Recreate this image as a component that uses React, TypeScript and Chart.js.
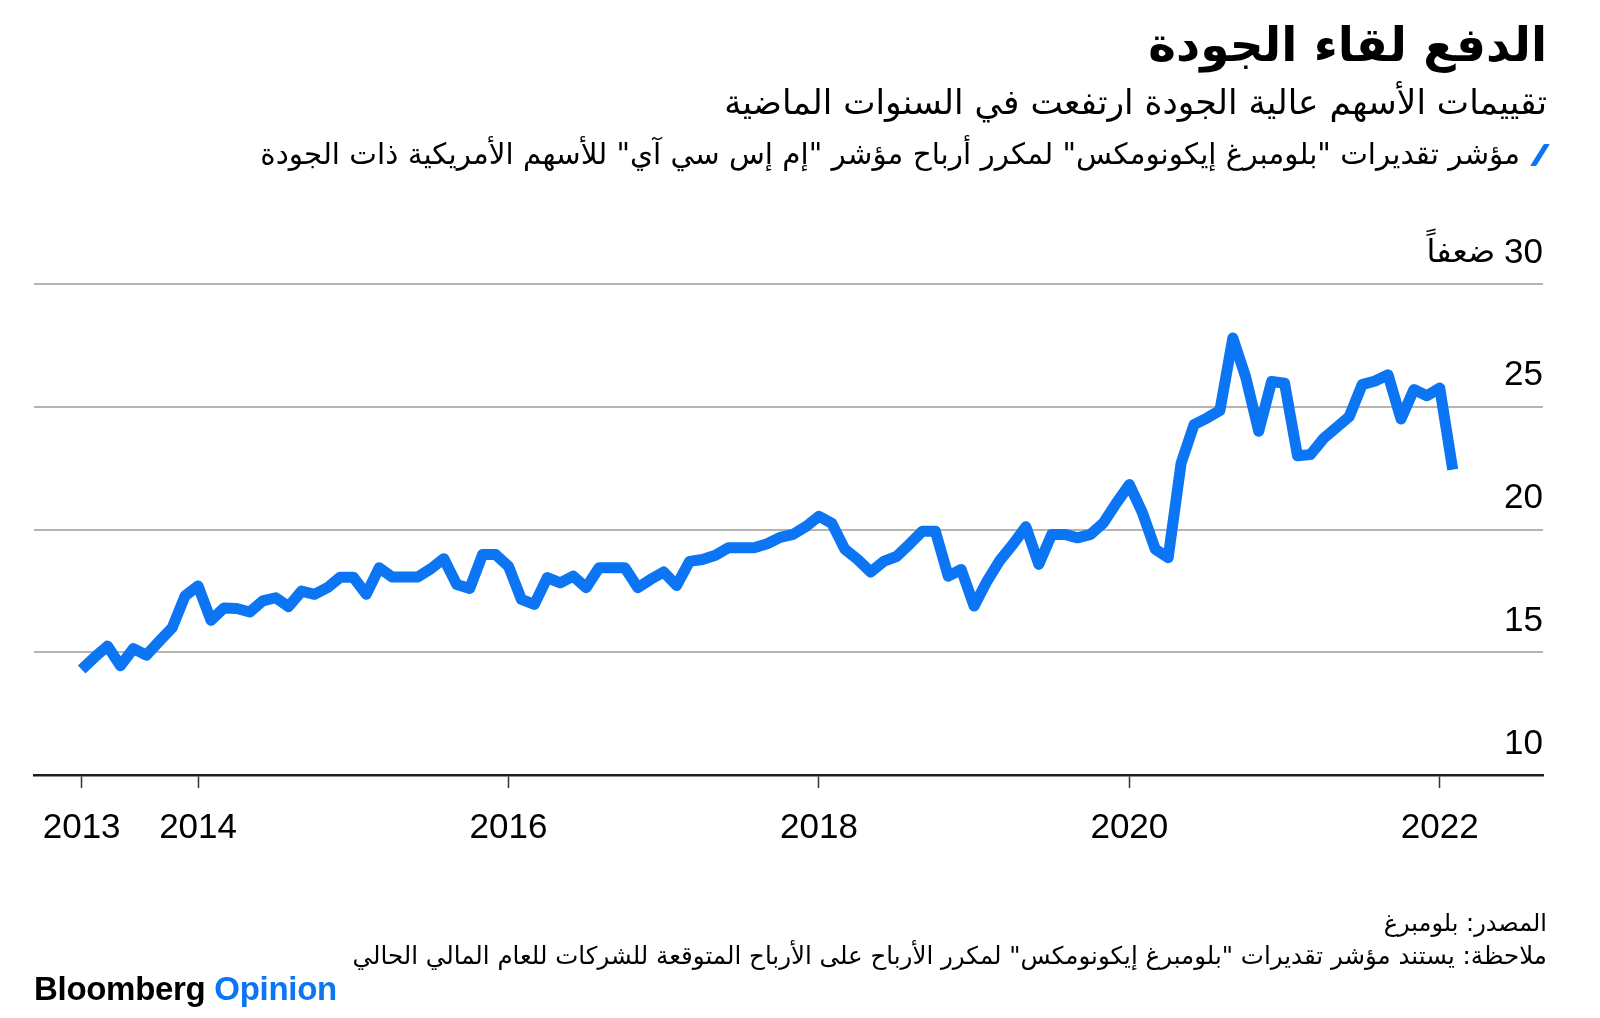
import React, { useEffect, useRef } from "react";
import { Chart, registerables } from "chart.js";

Chart.register(...registerables);

// ---- Data (month-end values, starting March 2013) ----
const startYear = 2013;
const startMonth = 3; // March
const peValues = [
  14.3, 14.8, 15.25, 14.45, 15.15, 14.88, 15.45, 16.0, 17.3, 17.7,
  16.3, 16.8, 16.78, 16.64, 17.09, 17.22, 16.86, 17.49, 17.36, 17.63,
  18.06, 18.06, 17.36, 18.44, 18.07, 18.07, 18.07, 18.4, 18.81, 17.76,
  17.6, 18.98, 18.98, 18.5, 17.15, 16.95, 18.04, 17.83, 18.1, 17.63,
  18.44, 18.44, 18.44, 17.63, 17.97, 18.27, 17.72, 18.7, 18.78, 18.95,
  19.26, 19.26, 19.26, 19.42, 19.68, 19.8, 20.12, 20.54, 20.25, 19.2,
  18.78, 18.27, 18.7, 18.9, 19.4, 19.93, 19.93, 18.1, 18.37, 16.88,
  17.9, 18.75, 19.4, 20.11, 18.58, 19.8, 19.8, 19.66, 19.8, 20.27,
  21.08, 21.83, 20.7, 19.2, 18.85, 22.7, 24.27, 24.54, 24.85, 27.8,
  26.2, 24.0, 26.03, 25.96, 23.0, 23.05, 23.7, 24.15, 24.6, 25.9,
  26.05, 26.3, 24.5, 25.7, 25.45, 25.76, 22.44,
];
const xTickValues = [2013.25, 2014, 2016, 2018, 2020, 2022];
const yTickValues = [10, 15, 20, 25, 30];
const yUnit = "ضعفاً";

// ---- Text ----
const titleText = "الدفع لقاء الجودة";
const subtitleText = "تقييمات الأسهم عالية الجودة ارتفعت في السنوات الماضية";
const legendText = 'مؤشر تقديرات "بلومبرغ إيكونومكس" لمكرر أرباح مؤشر "إم إس سي آي" للأسهم الأمريكية ذات الجودة';
const sourceText = "المصدر: بلومبرغ";
const noteText = 'ملاحظة: يستند مؤشر تقديرات "بلومبرغ إيكونومكس" لمكرر الأرباح على الأرباح المتوقعة للشركات للعام المالي الحالي';

const BLUE = "#0b75f4";
const AR_FONT = '"DejaVu Sans", "Noto Sans", sans-serif';
const NUM_FONT = '"Liberation Sans", Arial, Helvetica, sans-serif';

const yLabelPlugin = {
  id: "yLabels",
  afterDraw(chart: any) {
    const { ctx, chartArea, scales } = chart;
    const y = scales.y;
    ctx.save();
    ctx.fillStyle = "#000";
    ctx.textAlign = "right";
    ctx.textBaseline = "middle";
    yTickValues.forEach((v, i) => {
      const py = y.getPixelForValue(v) - 31;
      const right = chartArea.right;
      ctx.font = `35px ${NUM_FONT}`;
      const label = String(v);
      ctx.fillText(label, right, py);
      if (i === yTickValues.length - 1) {
        const w = ctx.measureText(label).width;
        ctx.font = `32px ${AR_FONT}`;
        ctx.fillText(yUnit, right - w - 9, py + 1);
      }
    });
    ctx.restore();
  },
};

export default function App() {
  const ref = useRef<HTMLCanvasElement | null>(null);

  useEffect(() => {
    if (!ref.current) return;
    const points = peValues.map((v, i) => ({
      x: startYear + (startMonth + i) / 12,
      y: v,
    }));
    const chart = new Chart(ref.current, {
      type: "line",
      data: {
        datasets: [
          {
            data: points,
            borderColor: BLUE,
            borderWidth: 11,
            pointRadius: 0,
            tension: 0,
            borderJoinStyle: "round",
            borderCapStyle: "butt",
            fill: false,
          },
        ],
      },
      options: {
        animation: false,
        responsive: false,
        devicePixelRatio: 1,
        layout: { padding: { left: 34, right: 57, top: 284, bottom: 150 } },
        plugins: { legend: { display: false }, tooltip: { enabled: false } },
        scales: {
          x: {
            type: "linear",
            position: "bottom",
            min: 2012.943,
            max: 2022.665,
            afterBuildTicks: (scale: any) => {
              scale.ticks = xTickValues.map((v) => ({ value: v }));
            },
            grid: {
              drawOnChartArea: false,
              drawTicks: true,
              tickLength: 13,
              tickColor: "#333",
              tickWidth: 1.5,
            },
            border: { display: true, color: "#1e1e1e", width: 2.5 },
            ticks: {
              autoSkip: false,
              maxRotation: 0,
              padding: 19,
              color: "#000",
              font: { family: NUM_FONT, size: 35 },
              callback: (v: any) => String(Math.floor(Number(v))),
            },
          },
          y: {
            type: "linear",
            position: "right",
            min: 10,
            max: 30,
            afterBuildTicks: (scale: any) => {
              scale.ticks = yTickValues.map((v) => ({ value: v }));
            },
            grid: { color: "#b4b4b4", lineWidth: 2, drawTicks: false },
            border: { display: false },
            ticks: { display: false },
          },
        },
      },
      plugins: [yLabelPlugin],
    });
    return () => chart.destroy();
  }, []);

  const arBase: React.CSSProperties = {
    position: "absolute",
    right: 53,
    direction: "rtl",
    fontFamily: AR_FONT,
    color: "#000",
    whiteSpace: "nowrap",
    lineHeight: 1,
  };

  return (
    <div
      style={{
        position: "fixed",
        left: 0,
        top: 0,
        width: 1600,
        height: 1018,
        background: "#fff",
        overflow: "hidden",
      }}
    >
      <canvas ref={ref} width={1600} height={1018} style={{ display: "block", width: 1600, height: 1018 }} />
      <div style={{ ...arBase, top: 21, fontSize: 47, fontWeight: 700 }}>{titleText}</div>
      <div style={{ ...arBase, top: 85, fontSize: 34.3 }}>{subtitleText}</div>
      <div style={{ ...arBase, top: 140, fontSize: 29.4, display: "flex", alignItems: "center" }}>
        <span
          style={{
            display: "inline-block",
            width: 6,
            height: 22,
            background: BLUE,
            transform: "skewX(-32deg)",
            marginLeft: 17,
            marginRight: 4,
            borderRadius: 1,
          }}
        />
        <span>{legendText}</span>
      </div>
      <div style={{ ...arBase, top: 911, fontSize: 24 }}>{sourceText}</div>
      <div style={{ ...arBase, top: 944, fontSize: 24.5 }}>{noteText}</div>
      <div
        style={{
          position: "absolute",
          left: 34,
          top: 972,
          fontFamily: NUM_FONT,
          fontWeight: 700,
          fontSize: 33,
          lineHeight: 1,
          letterSpacing: -0.3,
          whiteSpace: "nowrap",
          color: "#000",
        }}
      >
        Bloomberg <span style={{ color: BLUE }}>Opinion</span>
      </div>
    </div>
  );
}
